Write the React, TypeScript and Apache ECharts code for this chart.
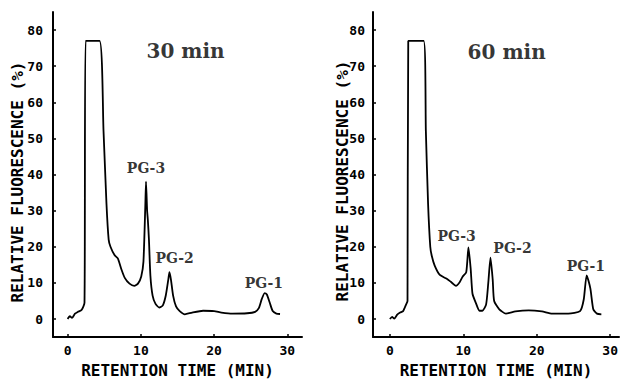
import React, { useEffect, useRef } from "react";
import * as echarts from "echarts";

const time30 = [0, 0.3, 0.6, 1.0, 1.4, 1.9, 2.3, 2.45, 4.35, 4.9, 5.3, 5.6, 5.85, 6.4, 6.85, 7.3, 7.8, 8.45, 9.1, 9.6, 10.05, 10.35, 10.6, 10.7, 10.85, 10.95, 11.1, 11.3, 11.6, 12.0, 12.5, 13.0, 13.4, 13.75, 13.9, 14.1, 14.4, 14.8, 15.3, 16.0, 17.0, 18.5, 20.0, 21.0, 22.5, 24.5, 25.6, 26.1, 26.5, 26.9, 27.2, 27.6, 28.0, 28.5, 29.0];
const signal30 = [0, 0.8, 0.3, 1.5, 2.0, 2.5, 4.5, 77, 77, 52, 32, 22, 20, 17.7, 16.8, 14, 11.4, 9.8, 9.2, 9.8, 11.8, 15.9, 31, 38, 30, 27.5, 22, 12, 6.5, 4.2, 3.2, 3.8, 6.5, 11, 13, 11, 6.5, 3.5, 2.2, 1.3, 1.8, 2.3, 2.2, 1.8, 1.5, 1.6, 2.0, 3.0, 5.5, 7.2, 6.8, 4.5, 2.2, 1.5, 1.4];

const time60 = [0, 0.3, 0.6, 1.0, 1.4, 1.8, 2.2, 2.4, 2.5, 4.6, 4.9, 5.2, 5.5, 5.7, 6.1, 6.8, 7.7, 8.3, 9.0, 9.5, 9.9, 10.4, 10.7, 11.0, 11.25, 11.7, 12.2, 12.6, 13.1, 13.4, 13.7, 14.0, 14.2, 14.9, 15.8, 17.1, 18.9, 20.7, 22.1, 24.3, 25.9, 26.4, 26.8, 27.3, 27.7, 28.2, 28.8];
const signal60 = [0, 0.6, 0.1, 1.2, 1.8, 2.2, 4.0, 5, 77, 77, 52, 32, 20, 17.5, 14.8, 12.2, 11.2, 10.3, 9.2, 10.2, 11.7, 13, 19.8, 14, 7, 4.5, 2.3, 2.3, 4, 10, 17, 11, 5, 2.7, 1.5, 2.1, 2.4, 2.1, 1.5, 1.5, 2.2, 5.4, 12.1, 8.5, 2.7, 1.5, 1.3];

const peakNames = ["PG-3", "PG-2", "PG-1"];
const peakLabelX30 = [10.7, 14.6, 26.8];
const peakLabelY30 = [41.9, 16.8, 10];
const peakLabelX60 = [9.1, 16.7, 26.7];
const peakLabelY60 = [22.9, 19.7, 14.8];

const panelTitles = ["30 min", "60 min"];
const titleX = [16.1, 15.9];
const titleY = [74.2, 74.0];

const yTicks = [0, 10, 20, 30, 40, 50, 60, 70, 80];
const xTicks = [0, 10, 20, 30];
const yName = "RELATIVE FLUORESCENCE (%)";
const xName = "RETENTION TIME (MIN)";

const mono = "DejaVu Sans Mono";
const serif = "DejaVu Serif";

function pairs(xs: number[], ys: number[]) {
  return xs.map((x, i) => [x, ys[i]]);
}

export default function App() {
  const ref = useRef<HTMLDivElement>(null);
  useEffect(() => {
    if (!ref.current) return;
    const chart = echarts.init(ref.current, null, { renderer: "svg" });
    const xAxis = (idx: number, min: number, max: number) => ({
      type: "value",
      gridIndex: idx,
      min,
      max,
      splitLine: { show: false },
      axisLine: { show: true, onZero: false, lineStyle: { color: "#000", width: 2 } },
      axisTick: { show: true, inside: true, length: 3, customValues: xTicks, lineStyle: { color: "#000", width: 1.5 } },
      axisLabel: { customValues: xTicks, color: "#000", fontFamily: mono, fontWeight: "bold", fontSize: 13, margin: 7 },
      name: xName,
      nameLocation: "middle",
      nameGap: 23,
      nameTextStyle: { color: "#000", fontFamily: mono, fontWeight: "bold", fontSize: 16 },
    });
    const yAxis = (idx: number, lm: number) => ({
      type: "value",
      gridIndex: idx,
      min: -5,
      max: 85,
      splitLine: { show: false },
      axisLine: { show: true, onZero: false, lineStyle: { color: "#000", width: 2 } },
      axisTick: { show: true, inside: true, length: 3, customValues: yTicks, lineStyle: { color: "#000", width: 1.5 } },
      axisLabel: { customValues: yTicks, color: "#000", fontFamily: mono, fontWeight: "bold", fontSize: 13, margin: lm },
    });
    const labelSeries = (idx: number, xs: number[], ys: number[]) => ({
      type: "scatter",
      xAxisIndex: idx,
      yAxisIndex: idx,
      symbolSize: 0,
      silent: true,
      data: peakNames.map((n, i) => ({ name: n, value: [xs[i], ys[i]] })),
      label: {
        show: true,
        position: "inside",
        formatter: "{b}",
        color: "#000",
        fontFamily: serif,
        fontWeight: "bold",
        fontSize: 14,
      },
    });
    const titleSeries = (idx: number) => ({
      type: "scatter",
      xAxisIndex: idx,
      yAxisIndex: idx,
      symbolSize: 0,
      silent: true,
      data: [{ name: panelTitles[idx], value: [titleX[idx], titleY[idx]] }],
      label: {
        show: true,
        position: "inside",
        formatter: "{b}",
        color: "#000",
        fontFamily: serif,
        fontWeight: "bold",
        fontSize: 20,
      },
    });
    const lineSeries = (idx: number, xs: number[], ys: number[]) => ({
      type: "line",
      xAxisIndex: idx,
      yAxisIndex: idx,
      showSymbol: false,
      smooth: 0.2,
      data: pairs(xs, ys),
      lineStyle: { color: "#000", width: 1.8 },
    });
    const yTitle = (x: number, y: number) => ({
      type: "text",
      x,
      y,
      rotation: Math.PI / 2,
      silent: true,
      style: {
        text: yName,
        fill: "#000",
        font: `bold 16px "${mono}"`,
        align: "center",
        verticalAlign: "middle",
      },
    });
    chart.setOption({
      animation: false,
      backgroundColor: "#fff",
      textStyle: { fontFamily: mono },
      grid: [
        { left: 53, top: 12, width: 249, height: 335 },
        { left: 373, top: 12, right: 0, height: 335 },
      ],
      xAxis: [xAxis(0, -2, 32), xAxis(1, -2.3, 31.2)],
      yAxis: [yAxis(0, 10), yAxis(1, 8)],
      graphic: [yTitle(17, 182), yTitle(342, 181)],
      series: [
        lineSeries(0, time30, signal30),
        lineSeries(1, time60, signal60),
        labelSeries(0, peakLabelX30, peakLabelY30),
        labelSeries(1, peakLabelX60, peakLabelY60),
        titleSeries(0),
        titleSeries(1),
      ],
    });
    return () => chart.dispose();
  }, []);
  return (
    <div
      ref={ref}
      style={{ position: "fixed", left: 0, top: 0, width: 621, height: 383, background: "#fff" }}
    />
  );
}
